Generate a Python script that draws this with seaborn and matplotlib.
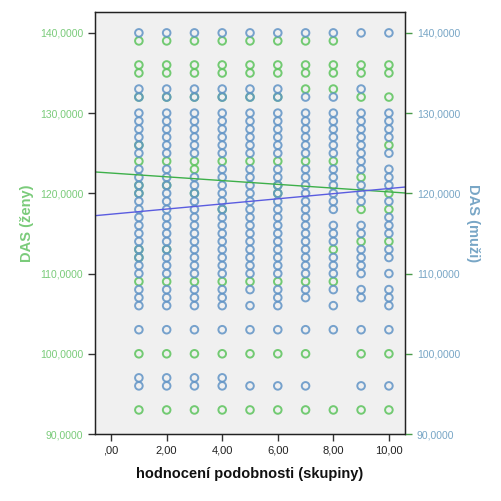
import matplotlib
matplotlib.use('Agg')
import matplotlib.pyplot as plt
import matplotlib.ticker as mticker
import seaborn as sns
import pandas as pd

# skupiny hodnoceni podobnosti (x) a hodnoty DAS
skupiny = [1, 2, 3, 4, 5, 6, 7, 8, 9, 10]

das_zeny = [
    [139, 136, 135, 132, 126, 124, 121, 120, 113, 112, 109, 100, 93],
    [139, 136, 135, 132, 124, 121, 113, 109, 100, 93],
    [139, 136, 135, 132, 124, 123, 120, 109, 100, 93],
    [139, 136, 135, 132, 124, 118, 109, 100, 93],
    [139, 136, 135, 132, 124, 109, 100, 93],
    [139, 136, 135, 132, 124, 121, 120, 109, 100, 93],
    [139, 136, 135, 133, 124, 109, 100, 93],
    [139, 136, 135, 133, 124, 113, 109, 93],
    [136, 135, 132, 122, 118, 114, 100, 93],
    [136, 135, 132, 126, 120, 118, 114, 100, 93],
]

das_muzi = [
    [140, 133, 132, 130, 129, 128, 127, 126, 125, 123, 122, 121, 120, 119, 118,
     117, 116, 115, 114, 113, 112, 111, 110, 108, 107, 106, 103, 97, 96],
    [140, 133, 132, 130, 129, 128, 127, 126, 125, 123, 122, 121, 120, 119, 118,
     117, 116, 115, 114, 113, 112, 111, 110, 108, 107, 106, 103, 97, 96],
    [140, 133, 132, 130, 129, 128, 127, 126, 125, 122, 121, 120, 119, 118,
     117, 116, 115, 114, 113, 112, 111, 110, 108, 107, 106, 103, 97, 96],
    [140, 133, 132, 130, 129, 128, 127, 126, 125, 123, 122, 121, 120, 119, 118,
     117, 116, 115, 114, 113, 112, 111, 110, 108, 107, 106, 103, 97, 96],
    [140, 133, 132, 130, 129, 128, 127, 126, 125, 123, 122, 121, 120, 119, 118,
     117, 116, 115, 114, 113, 112, 111, 110, 108, 106, 103, 96],
    [140, 133, 132, 130, 129, 128, 127, 126, 125, 123, 122, 121, 120, 119, 118,
     117, 116, 115, 114, 113, 112, 111, 110, 108, 107, 106, 103, 96],
    [140, 132, 130, 129, 128, 127, 126, 125, 123, 122, 121, 120, 119, 118,
     117, 116, 115, 114, 113, 112, 111, 110, 108, 107, 103, 96],
    [140, 132, 130, 129, 128, 127, 126, 125, 123, 122, 121, 120, 119, 118,
     116, 115, 114, 112, 111, 110, 108, 106, 103],
    [140, 133, 130, 129, 128, 127, 126, 125, 124, 123, 121, 120, 119,
     116, 115, 113, 112, 111, 110, 108, 107, 103, 96],
    [140, 130, 129, 128, 127, 125, 123, 122, 121, 119, 117, 116, 115, 113,
     112, 110, 108, 107, 106, 103, 96],
]

# regresni primky (usek, smernice)
fit_zeny = [122.53, -0.235]
fit_muzi = [117.40, 0.32]

y_ticks = [90, 100, 110, 120, 130, 140]
x_ticks = [0, 2, 4, 6, 8, 10]

zelena = '#5cc45c'
modra = '#6194c6'
zelena_text = '#7acb7a'
modra_text = '#78a6c6'

rows_z = [(x, v) for x, vals in zip(skupiny, das_zeny) for v in vals]
rows_m = [(x, v) for x, vals in zip(skupiny, das_muzi) for v in vals]
df_z = pd.DataFrame(rows_z, columns=['skupina', 'das'])
df_m = pd.DataFrame(rows_m, columns=['skupina', 'das'])

sns.set_style('white')
plt.rcParams['font.family'] = ['Liberation Sans', 'DejaVu Sans']

fig = plt.figure(figsize=(5.01, 5.01), dpi=100)
ax = fig.add_axes([0.1896, 0.1337, 0.6188, 0.8423])
ax.set_facecolor('#f0f0f0')

sns.scatterplot(data=df_z, x='skupina', y='das', ax=ax, marker='o', s=30,
                facecolor='none', edgecolor=zelena, linewidth=1.4, alpha=0.85)
sns.scatterplot(data=df_m, x='skupina', y='das', ax=ax, marker='o', s=30,
                facecolor='none', edgecolor=modra, linewidth=1.4, alpha=0.85)

xlim = (-0.58, 10.58)
ylim = (90, 142.6)
ax.plot(xlim, [fit_zeny[0] + fit_zeny[1] * x for x in xlim], color='#3db04a', lw=1)
ax.plot(xlim, [fit_muzi[0] + fit_muzi[1] * x for x in xlim], color='#5a5ce0', lw=1)

ax.set_xlim(xlim)
ax.set_ylim(ylim)
ax.set_xticks(x_ticks)
ax.set_yticks(y_ticks)

def fmt_x(v, pos):
    s = f"{v:.2f}".replace('.', ',')
    return s[1:] if s.startswith('0,') else s

ax.xaxis.set_major_formatter(mticker.FuncFormatter(fmt_x))
ax.yaxis.set_major_formatter(mticker.FuncFormatter(lambda v, p: f"{v:.4f}".replace('.', ',')))
ax.tick_params(axis='x', direction='out', length=5, width=1, color='#333333',
               labelsize=8, labelcolor='#222222', bottom=True)
ax.tick_params(axis='y', direction='out', length=5, width=1, color='#333333',
               labelsize=7.5, labelcolor=zelena_text, left=True)

for sp in ax.spines.values():
    sp.set_color('#222222')
    sp.set_linewidth(1)

ax.set_xlabel('hodnocení podobnosti (skupiny)', fontsize=10.5, fontweight='bold',
              color='#111111', labelpad=8)
ax.set_ylabel('DAS (ženy)', fontsize=10.5, fontweight='bold', color=zelena_text, labelpad=4)

ax2 = ax.twinx()
ax2.set_ylim(ylim)
ax2.set_yticks(y_ticks)
ax2.yaxis.set_major_formatter(mticker.FuncFormatter(lambda v, p: f"{v:.4f}".replace('.', ',')))
ax2.tick_params(axis='y', direction='out', length=5, width=1, color='#4a9a4a',
                labelsize=7.5, labelcolor=modra_text, right=True)
ax2.set_ylabel('DAS (muži)', fontsize=10.5, fontweight='bold', color=modra_text,
               rotation=270, labelpad=14)
for sp in ax2.spines.values():
    sp.set_color('#222222')

fig.savefig('out.png', dpi=100)
